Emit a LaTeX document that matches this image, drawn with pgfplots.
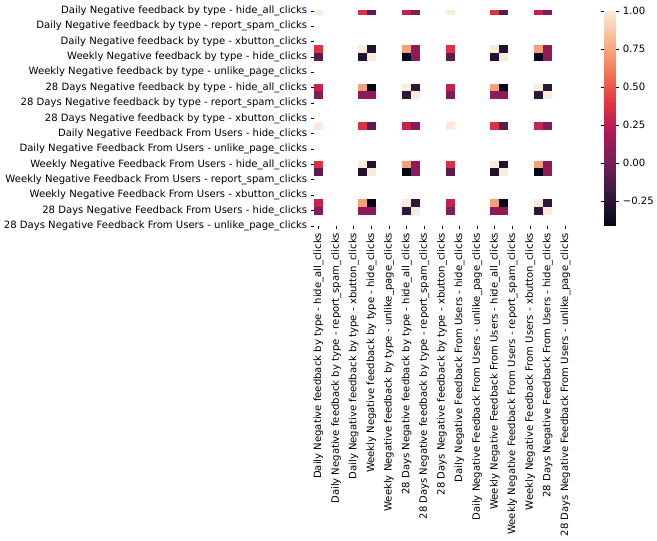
\documentclass[border=0pt]{standalone}
\usepackage{fontspec}
\setmainfont{DejaVu Sans}
\usepackage{pgfplots}
\pgfplotsset{compat=1.18}
\pgfdeclareplotmark{hcell}{\pgfpathrectangle{\pgfpoint{-4.55bp}{-3.98bp}}{\pgfpoint{9.1bp}{7.96bp}}\pgfusepathqfill}
\pgfplotsset{colormap={rocket}{rgb255=(3,5,26) rgb255=(53,25,62) rgb255=(112,31,87) rgb255=(173,23,89) rgb255=(225,51,66) rgb255=(243,118,81) rgb255=(246,180,143) rgb255=(250,235,221)}}
\def\lbls{Daily Negative feedback by type - hide\_all\_clicks,
Daily Negative feedback by type - report\_spam\_clicks,
Daily Negative feedback by type - xbutton\_clicks,
Weekly Negative feedback by type - hide\_clicks,
Weekly Negative feedback by type - unlike\_page\_clicks,
28 Days Negative feedback by type - hide\_all\_clicks,
28 Days Negative feedback by type - report\_spam\_clicks,
28 Days Negative feedback by type - xbutton\_clicks,
Daily Negative Feedback From Users - hide\_clicks,
Daily Negative Feedback From Users - unlike\_page\_clicks,
Weekly Negative Feedback From Users - hide\_all\_clicks,
Weekly Negative Feedback From Users - report\_spam\_clicks,
Weekly Negative Feedback From Users - xbutton\_clicks,
28 Days Negative Feedback From Users - hide\_clicks,
28 Days Negative Feedback From Users - unlike\_page\_clicks}
\begin{document}
\begin{tikzpicture}
\begin{axis}[name=main,
  scale only axis, width=258bp, height=217bp,
  xmin=-0.5, xmax=28.5, ymin=0, ymax=28, y dir=reverse,
  font=\fontsize{10.2}{12}\selectfont,
  axis line style={draw=none},
  clip marker paths=true,
  xtick={0,2,...,28}, ytick={0,2,...,28},
  xticklabels/.expand once=\lbls, yticklabels/.expand once=\lbls,
  xticklabel style={rotate=90, anchor=east},
  yticklabel style={anchor=east},
  tick align=outside, xtick pos=bottom, ytick pos=left,
  major tick length=3.5bp, tick style={black, line width=0.8bp},
  colormap name=rocket,
  point meta min=-0.414, point meta max=1,
  colorbar,
  colorbar style={width=12bp, at={(parent axis.north east)}, anchor=north west, xshift=26bp,
    axis line style={draw=none},
    ytick={-0.25,0,0.25,0.5,0.75,1},
    yticklabels={−0.25,0.00,0.25,0.50,0.75,1.00},
    yticklabel style={font=\fontsize{10.2}{12}\selectfont},
    major tick length=3.5bp, tick style={black, line width=0.8bp}, tick align=outside},
]
\addplot[scatter, only marks, mark=hcell, point meta=explicit,
  scatter/use mapped color={draw=none, fill=mapped color}] table[meta=v] {
x y v
0 0 1
5 0 0.37
6 0 -0.08
10 0 0.28
11 0 0.05
15 0 1
20 0 0.37
21 0 -0.08
25 0 0.28
26 0 0.05
0 15 1
5 15 0.37
6 15 -0.08
10 15 0.28
11 15 0.05
15 15 1
20 15 0.37
21 15 -0.08
25 15 0.28
26 15 0.05
0 5 0.37
5 5 1
6 5 -0.29
10 5 0.73
11 5 0.09
15 5 0.37
20 5 1
21 5 -0.29
25 5 0.73
26 5 0.09
0 20 0.37
5 20 1
6 20 -0.29
10 20 0.73
11 20 0.09
15 20 0.37
20 20 1
21 20 -0.29
25 20 0.73
26 20 0.09
0 6 -0.08
5 6 -0.29
6 6 1
10 6 -0.414
11 6 0.09
15 6 -0.08
20 6 -0.29
21 6 1
25 6 -0.414
26 6 0.09
0 21 -0.08
5 21 -0.29
6 21 1
10 21 -0.414
11 21 0.09
15 21 -0.08
20 21 -0.29
21 21 1
25 21 -0.414
26 21 0.09
0 10 0.28
5 10 0.73
6 10 -0.414
10 10 1
11 10 -0.24
15 10 0.28
20 10 0.73
21 10 -0.414
25 10 1
26 10 -0.24
0 25 0.28
5 25 0.73
6 25 -0.414
10 25 1
11 25 -0.24
15 25 0.28
20 25 0.73
21 25 -0.414
25 25 1
26 25 -0.24
0 11 0.05
5 11 0.09
6 11 0.09
10 11 -0.24
11 11 1
15 11 0.05
20 11 0.09
21 11 0.09
25 11 -0.24
26 11 1
0 26 0.05
5 26 0.09
6 26 0.09
10 26 -0.24
11 26 1
15 26 0.05
20 26 0.09
21 26 0.09
25 26 -0.24
26 26 1
};
\end{axis}
\path[use as bounding box] ([shift={(-317bp,-317bp)}]main.south west) rectangle ([shift={(82bp,11bp)}]main.north east);
\end{tikzpicture}
\end{document}
